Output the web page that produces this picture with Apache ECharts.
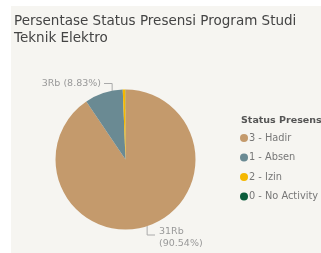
<!DOCTYPE html>
<html><head><meta charset="utf-8">
<script src="https://cdn.jsdelivr.net/npm/echarts@6/dist/echarts.min.js"></script>
<style>html,body{margin:0;padding:0;background:#fff}#c{width:321px;height:253px}</style>
</head><body><div id="c"></div>
<script>
const categories = ['3 - Hadir', '1 - Absen', '2 - Izin', '0 - No Activity'];
const values = [31002, 3023, 205, 10];
const colors = ['#c49a6c', '#6a8a93', '#f5b700', '#0b5d3b'];
const titleText = 'Persentase Status Presensi Program Studi\nTeknik Elektro';
const legendTitle = 'Status Presensi';

const CX = 125.5, CY = 159.5, R = 70;
function edge(deg) {
  const a = deg * Math.PI / 180;
  return [CX + R * Math.sin(a), CY - R * Math.cos(a)];
}

const chart = echarts.init(document.getElementById('c'), null, {renderer: 'canvas'});
const fmt = function (p) {
  const v = Math.round(p.value / 1000) + 'Rb';
  const pct = p.percent.toFixed(2) + '%';
  return p.dataIndex === 0 ? v + '\n(' + pct + ')' : v + ' (' + pct + ')';
};
chart.setOption({
  backgroundColor: '#ffffff',
  graphic: [{type: 'rect', z: -10, shape: {x: 11, y: 6, width: 310, height: 247}, style: {fill: '#f6f5f1'}}],
  title: [
    {text: titleText, left: 9, top: 8, textStyle: {fontFamily: 'DejaVu Sans', fontSize: 13.5, fontWeight: 'normal', color: '#444', lineHeight: 17}},
    {text: legendTitle, left: 236, top: 111, textStyle: {fontFamily: 'DejaVu Sans', fontSize: 9.5, fontWeight: 'bold', color: '#555'}}
  ],
  legend: {
    orient: 'vertical', left: 235, top: 128, icon: 'circle', itemWidth: 8, itemHeight: 8, itemGap: 9.5,
    textStyle: {fontFamily: 'DejaVu Sans', fontSize: 9.8, color: '#777', padding: [0, 0, 0, -4]},
    data: categories
  },
  series: [{
    type: 'pie', center: [CX, CY], radius: [0, R], startAngle: 90, clockwise: true,
    minShowLabelAngle: 3, avoidLabelOverlap: false,
    label: {formatter: fmt, fontFamily: 'DejaVu Sans', fontSize: 9.5, color: '#999', lineHeight: 11.5},
    labelLine: {length: 5, length2: 9, lineStyle: {color: '#aaa', width: 1}},
    labelLayout: function (p) {
      const r = p.labelRect;
      if (p.dataIndex === 0) {
        const e = edge(162);
        const ty = 235;
        return {
          dx: 159 - r.x, dy: 226 - r.y,
          labelLinePoints: [e, [e[0], ty], [155, ty]]
        };
      }
      if (p.dataIndex === 1) {
        const e = edge(-11);
        const ty = 83.5;
        return {
          dx: 101 - (r.x + r.width), dy: ty - (r.y + r.height / 2),
          labelLinePoints: [e, [e[0], ty], [104, ty]]
        };
      }
      return {};
    },
    itemStyle: {borderWidth: 0},
    emphasis: {disabled: true},
    data: categories.map((n, i) => ({name: n, value: values[i], itemStyle: {color: colors[i]}}))
  }]
});
</script></body></html>
